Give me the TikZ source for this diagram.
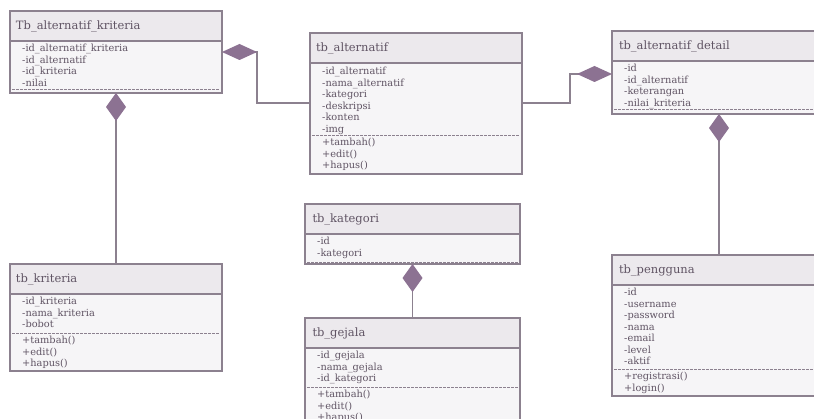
\documentclass[tikz,border=0pt]{standalone}
\usepackage{fontspec}
\usepackage{tikz}
\usetikzlibrary{positioning,arrows.meta}
\newfontfamily\umlfont{DejaVu Serif}
\definecolor{umlline}{RGB}{140,129,143}
\definecolor{headfill}{RGB}{236,233,237}
\definecolor{bodyfill}{RGB}{246,245,247}
\definecolor{diamcol}{RGB}{140,114,146}
\definecolor{umltext}{RGB}{96,84,100}

\tikzset{
  classhead/.style={draw=umlline, line width=1.2pt, fill=headfill, anchor=north west,
    minimum height=30pt, text width=200pt, align=left, inner xsep=5pt, outer sep=0pt,
    text=umltext, font=\umlfont\fontsize{11.5}{14}\selectfont},
  classbody/.style={draw=umlline, line width=1.2pt, fill=bodyfill, outer sep=0pt},
  members/.style={anchor=north west, align=left, inner sep=0pt, text=umltext,
    font=\umlfont\fontsize{9.8}{11.5}\selectfont},
  sepline/.style={draw=umlline, line width=0.8pt, dash pattern=on 2.5pt off 1.5pt},
  comph/.style={draw=umlline, line width=1.3pt, {Diamond[length=35pt,width=16pt,color=diamcol]}-},
  compv/.style={draw=umlline, line width=1.3pt, {Diamond[length=28pt,width=20pt,color=diamcol]}-}
}

\begin{document}
\begin{tikzpicture}[x=1pt, y=-1pt]
    \useasboundingbox (0,0) rectangle (814,419);
    \fill[white] (0,0) rectangle (814,419);
    \clip (0,0) rectangle (814,419);

    % Tb_alternatif_kriteria
    \node[classhead, minimum width=212pt] (altkrit) at (10,11) {Tb\_alternatif\_kriteria};
    \node[classbody, minimum width=212pt, minimum height=52pt, below=0pt of altkrit] (altkritbody) {};
    \node[members, below right=3pt and 12pt of altkritbody.north west] (altkritattr)
      {-id\_alternatif\_kriteria\\-id\_alternatif\\-id\_kriteria\\-nilai};
    \draw[sepline] ([xshift=2pt,yshift=-48pt]altkritbody.north west) -- ([xshift=-2pt,yshift=-48pt]altkritbody.north east);

    % tb_alternatif
    \node[classhead, minimum width=212pt] (alt) at (310,33) {tb\_alternatif};
    \node[classbody, minimum width=212pt, minimum height=111pt, below=0pt of alt] (altbody) {};
    \node[members, below right=4pt and 12pt of altbody.north west] (altattr)
      {-id\_alternatif\\-nama\_alternatif\\-kategori\\-deskripsi\\-konten\\-img};
    \draw[sepline] ([xshift=2pt,yshift=-72pt]altbody.north west) -- ([xshift=-2pt,yshift=-72pt]altbody.north east);
    \node[members, below right=75pt and 12pt of altbody.north west] (altmeth)
      {+tambah()\\+edit()\\+hapus()};

    % tb_alternatif_detail
    \node[classhead, minimum width=214pt] (detail) at (612,31) {tb\_alternatif\_detail};
    \node[classbody, minimum width=214pt, minimum height=53pt, below=0pt of detail] (detailbody) {};
    \node[members, below right=3pt and 12pt of detailbody.north west] (detailattr)
      {-id\\-id\_alternatif\\-keterangan\\-nilai\_kriteria};
    \draw[sepline] ([xshift=2pt,yshift=-48pt]detailbody.north west) -- ([xshift=-2pt,yshift=-48pt]detailbody.north east);

    % tb_kriteria
    \node[classhead, minimum width=212pt] (krit) at (10,264) {tb\_kriteria};
    \node[classbody, minimum width=212pt, minimum height=77pt, below=0pt of krit] (kritbody) {};
    \node[members, below right=3pt and 12pt of kritbody.north west] (kritattr)
      {-id\_kriteria\\-nama\_kriteria\\-bobot};
    \draw[sepline] ([xshift=2pt,yshift=-39pt]kritbody.north west) -- ([xshift=-2pt,yshift=-39pt]kritbody.north east);
    \node[members, below right=42pt and 12pt of kritbody.north west] (kritmeth)
      {+tambah()\\+edit()\\+hapus()};

    % tb_kategori
    \node[classhead, minimum width=215pt] (kategori) at (305,204) {tb\_kategori};
    \node[classbody, minimum width=215pt, minimum height=30pt, below=0pt of kategori] (kategoribody) {};
    \node[members, below right=3pt and 12pt of kategoribody.north west] (kategoriattr)
      {-id\\-kategori};
    \draw[sepline] ([xshift=2pt,yshift=-28pt]kategoribody.north west) -- ([xshift=-2pt,yshift=-28pt]kategoribody.north east);

    % tb_gejala
    \node[classhead, minimum width=215pt] (gejala) at (305,318) {tb\_gejala};
    \node[classbody, minimum width=215pt, minimum height=80pt, below=0pt of gejala] (gejalabody) {};
    \node[members, below right=3pt and 12pt of gejalabody.north west] (gejalaattr)
      {-id\_gejala\\-nama\_gejala\\-id\_kategori};
    \draw[sepline] ([xshift=2pt,yshift=-39pt]gejalabody.north west) -- ([xshift=-2pt,yshift=-39pt]gejalabody.north east);
    \node[members, below right=42pt and 12pt of gejalabody.north west] (gejalameth)
      {+tambah()\\+edit()\\+hapus()};

    % tb_pengguna
    \node[classhead, minimum width=214pt] (pengguna) at (612,255) {tb\_pengguna};
    \node[classbody, minimum width=214pt, minimum height=111pt, below=0pt of pengguna] (penggunabody) {};
    \node[members, below right=3pt and 12pt of penggunabody.north west] (penggunaattr)
      {-id\\-username\\-password\\-nama\\-email\\-level\\-aktif};
    \draw[sepline] ([xshift=2pt,yshift=-84pt]penggunabody.north west) -- ([xshift=-2pt,yshift=-84pt]penggunabody.north east);
    \node[members, below right=87pt and 12pt of penggunabody.north west] (penggunameth)
      {+registrasi()\\+login()};

    % Compositions
    \draw[comph] ([yshift=-11pt]altkritbody.north east) -- ++(35,0) |- ([yshift=-40pt]altbody.north west);
    \draw[comph] ([yshift=-13pt]detailbody.north west) -- ++(-42,0) |- ([yshift=-40pt]altbody.north east);
    \draw[compv] (altkritbody.south) -- (krit.north);
    \draw[compv] (detailbody.south) -- (pengguna.north);
    \draw[compv] (kategoribody.south) -- (gejala.north);

\end{tikzpicture}
\end{document}
